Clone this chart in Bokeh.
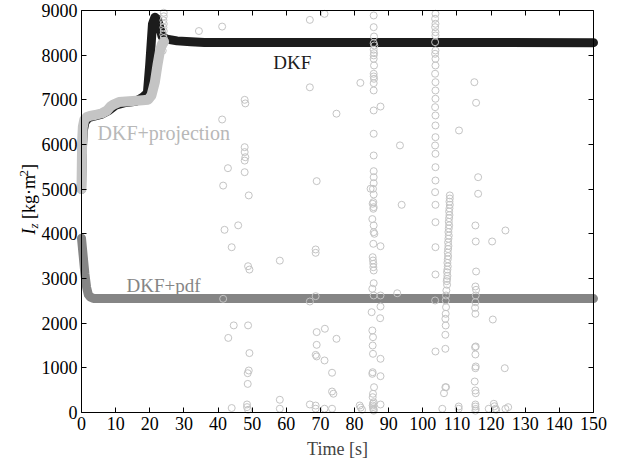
from bokeh.plotting import figure
from bokeh.models import Range1d, LinearAxis, FixedTicker, Label
from bokeh.embed import file_html
from bokeh.resources import INLINE
import math

# ---------------- data ----------------
x_ticks = list(range(0, 151, 10))
y_ticks = list(range(0, 9001, 1000))

# DKF (black)
dkf_t = [0, 0.2, 0.5, 1, 2, 4, 6, 8, 10, 13, 16, 18, 19.3, 20.0, 20.8, 21.5, 22.3, 23.0, 23.6, 25, 28, 32, 36, 150]
dkf_v = [5000, 5800, 6300, 6500, 6600, 6640, 6680, 6760, 6880, 6940, 6970, 7060, 7150, 7800, 8700, 8850, 8800, 8600, 8420, 8360, 8320, 8300, 8285, 8280]

# DKF+pdf (dark gray)
pdf_t = [0, 0.5, 1.0, 1.5, 2.0, 2.5, 3.5, 150]
pdf_v = [3900, 3500, 3100, 2800, 2640, 2590, 2555, 2550]

# DKF+projection, initial converged trajectory (light gray)
proj_curve_t = [0, 0.1, 0.2, 0.4, 0.8, 1.5, 2.5, 4, 6, 7.5, 8.5, 9.5, 11, 14, 17, 19.5, 20.5, 21.5, 22.3, 23, 23.6, 24.2]
proj_curve_v = [5000, 5600, 6100, 6400, 6550, 6610, 6640, 6660, 6700, 6760, 6850, 6900, 6950, 6970, 6985, 7000, 7100, 7400, 7800, 8100, 8250, 8300]

# DKF+projection, scattered estimates (open circles)
proj_pts_t = [
    # around t = 24
    24.1, 24.1, 24.0, 24.1, 24.0, 24.1, 24.0, 24.1, 24.0, 23.9, 23.8,
    # t = 34 .. 49
    34.4, 41.2, 47.8, 48.0, 41.2, 47.8, 47.8, 48.0, 47.8, 47.8, 42.9, 41.5, 49.0,
    41.9, 45.9, 44.0, 48.8, 49.2, 41.5, 44.6, 48.8, 43.0, 49.2, 49.0, 48.7, 48.7,
    44.0, 48.5, 48.5, 48.8,
    # t = 58 .. 94
    66.9, 71.2, 81.7, 66.9, 87.6, 74.7, 93.3, 68.9, 84.7, 58.1, 68.6, 68.6, 68.6,
    66.9, 71.3, 68.9, 74.7, 68.9, 68.6, 68.9, 71.2, 73.4, 73.4, 58.1, 58.1, 66.9,
    68.6, 68.6, 71.2, 73.4, 73.8, 92.5, 93.8, 81.5, 81.8, 82.2,
    # column near t = 85.6
    85.6, 85.6, 85.7, 85.6, 85.8, 85.6, 85.7, 85.6, 85.6, 85.7, 85.6, 85.6, 85.7,
    85.6, 85.6, 85.6, 85.6, 85.6, 85.6, 85.6, 85.6, 85.4, 85.6, 85.5, 85.3, 85.6,
    85.5, 85.2, 85.6, 85.6, 85.8, 85.5, 85.3, 85.4, 85.5, 85.5, 85.6, 85.6, 85.2,
    85.6, 85.0, 85.2, 85.4, 85.3, 85.4, 85.3, 85.2, 85.7, 85.4, 85.3, 85.6, 85.3,
    85.5, 85.4, 85.6, 85.4, 85.6,
    # column near t = 87.6
    87.6, 87.6, 87.6, 87.5, 87.6, 87.6, 87.6,
    # column near t = 103.7
    103.7, 103.6, 103.7, 103.6, 103.7, 103.7, 103.6, 103.7, 103.6, 103.7, 103.7,
    103.6, 103.7, 103.7, 103.7, 103.6, 103.7, 103.7, 103.7, 103.6, 103.7, 103.7,
    103.7, 103.6, 103.7, 103.7, 103.7, 103.7, 103.6, 103.7,
    # streak near t = 107
    107.9, 107.9, 107.8, 107.9, 107.8, 107.7, 107.8, 107.7, 107.6, 107.7, 107.6,
    107.5, 107.6, 107.5, 107.4, 107.5, 107.4, 107.3, 107.4, 107.3, 107.2, 107.3,
    107.2, 107.1, 107.2, 107.1, 107.0, 107.1, 106.9, 106.8, 106.7, 106.8, 106.7,
    106.6, 106.7, 106.6, 106.6, 106.6, 106.8, 106.2, 105.7,
    # column near t = 115.4 and others
    115.1, 115.6, 116.2, 116.2, 115.4, 115.5, 115.6, 115.4, 115.6, 115.5, 115.4,
    115.3, 115.4, 115.5, 115.3, 115.4, 115.5, 115.4, 115.2, 115.4, 115.5, 115.4,
    115.4, 115.5, 115.4,
    110.6, 120.3, 124.2, 120.5, 124.0, 110.5, 110.5, 119.3, 120.8, 121.3, 124.2,
    125.0, 121.0, 121.5,
]
proj_pts_v = [
    8950, 8870, 8780, 8700, 8620, 8540, 8460, 8380, 8300, 8220, 8100,
    8540, 8640, 7000, 6920, 6560, 5940, 5830, 5715, 5640, 5380, 5470, 5080, 4860,
    4090, 4190, 3700, 3275, 3200, 2545, 1950, 1950, 1670, 1330, 940, 880, 640,
    100, 180, 120, 60,
    8790, 8925, 7380, 7280, 6850, 6690, 5980, 5180, 5010, 3400, 3650, 3575, 2605,
    2485, 1875, 1800, 1650, 1515, 1290, 1255, 1165, 890, 470, 285, 85, 180,
    155, 85, 85, 85, 420, 2670, 4650, 157, 110, 60,
    8889, 8627, 8418, 8269, 8217, 8121, 8045, 7994, 7919, 7769, 7583, 7523, 7471,
    7373, 7210, 6762, 6240, 5754, 5403, 5268, 5134, 5008, 4881, 4709, 4673, 4597,
    4561, 4330, 4187, 4037, 4001, 3777, 3477, 3403, 3329, 3253, 3179, 2895, 2770,
    2620, 2246, 1836, 1686, 1500, 1314, 902, 866, 566, 419, 343, 231, 157,
    83, 120, 60, 200, 40,
    3723, 2620, 2373, 2111, 1202, 813, 179,
    8927, 8815, 8703, 8627, 8515, 8441, 8291, 8105, 8031, 7919, 7769,
    7584, 7395, 7209, 7024, 6836, 6650, 6426, 6164, 5978, 5792, 5492,
    5194, 4933, 4650, 4261, 3701, 3090, 2508, 1366,
    4860, 4790, 4720, 4650, 4570, 4500, 4420, 4350, 4270, 4190, 4120,
    4040, 3960, 3890, 3810, 3730, 3660, 3580, 3500, 3430, 3350, 3270,
    3200, 3141, 3060, 2990, 2940, 2860, 2731, 2620, 2508, 2358, 2210,
    2098, 1948, 1740, 1426, 566, 566, 432, 83,
    7395, 6934, 5268, 4897, 4187, 3829, 3157, 2821, 2747, 2620, 2470,
    2344, 2210, 1478, 1462, 1299, 1030, 992, 694, 493, 432, 179,
    134, 80, 40,
    6314, 3829, 4075, 2082, 992, 134, 83, 83, 195, 83, 83,
    119, 140, 60,
]

# ---------------- styling ----------------
FONT = "Liberation Serif"
C_DKF = "#1c1c1c"
C_PDF = "#858585"
C_PROJ = "#c4c4c4"
C_PROJ_TXT = "#b8b8b8"

# The frame covers the whole canvas; the visible plot box (x 0..150, y 0..9000)
# is drawn by four axes pinned with fixed_location, so all texts stay visible.
PX_PER_S = 512 / 150.0
PX_PER_V = 402 / 9000.0
X_START = -81 / PX_PER_S
X_END = 150 + 33 / PX_PER_S
Y_START = -48 / PX_PER_V
Y_END = 9000 + 10 / PX_PER_V

p = figure(width=626, height=460, output_backend="svg", toolbar_location=None,
           x_range=Range1d(X_START, X_END), y_range=Range1d(Y_START, Y_END),
           x_axis_location=None, y_axis_location=None,
           min_border_left=0, min_border_right=0, min_border_top=0, min_border_bottom=0)
p.outline_line_color = None
p.background_fill_color = "white"
p.border_fill_color = "white"
p.grid.grid_line_color = None


def style_axis(ax, ticks, labels):
    ax.ticker = FixedTicker(ticks=ticks)
    ax.axis_line_color = "black"
    ax.axis_line_width = 1
    ax.major_tick_line_color = "black"
    ax.major_tick_in = 5
    ax.major_tick_out = 0
    ax.minor_tick_line_color = None
    if labels:
        ax.major_label_text_font = FONT
        ax.major_label_text_font_size = "18px"
        ax.major_label_text_color = "black"
        ax.major_label_standoff = 4
    else:
        ax.major_label_text_font_size = "1px"
        ax.major_label_text_color = None
        ax.major_label_standoff = 0


xb = LinearAxis(bounds=(0, 150), fixed_location=0)
style_axis(xb, x_ticks, True)
xb.axis_label = "Time [s]"
xb.axis_label_text_font = FONT
xb.axis_label_text_font_size = "18px"
xb.axis_label_text_font_style = "normal"
xb.axis_label_standoff = 6
p.add_layout(xb, "below")

yl = LinearAxis(bounds=(0, 9000), fixed_location=0)
style_axis(yl, y_ticks, True)
p.add_layout(yl, "left")

xt = LinearAxis(bounds=(0, 150), fixed_location=9000)
style_axis(xt, x_ticks, False)
p.add_layout(xt, "above")

yr = LinearAxis(bounds=(0, 9000), fixed_location=150)
style_axis(yr, y_ticks, False)
p.add_layout(yr, "right")

# series
p.line(dkf_t, dkf_v, line_color=C_DKF, line_width=9, line_cap="round", line_join="round")
p.line(pdf_t, pdf_v, line_color=C_PDF, line_width=9, line_cap="round", line_join="round")
p.line(proj_curve_t, proj_curve_v, line_color=C_PROJ, line_width=10, line_cap="round", line_join="round")
p.scatter(proj_pts_t, proj_pts_v, marker="circle", size=7, fill_color=None,
          line_color=C_PROJ, line_width=1)

# in-plot series labels
for txt, tx, ty, col, fs in [("DKF", 56.2, 7836, C_DKF, "19px"),
                             ("DKF+projection", 4.7, 6247, C_PROJ_TXT, "20px"),
                             ("DKF+pdf", 13.2, 2843, C_PDF, "19px")]:
    p.add_layout(Label(x=tx, y=ty, text=txt, text_font=FONT, text_font_size=fs,
                       text_color=col, text_align="left", text_baseline="middle"))

# rotated y-axis label: I_z [kg·m^2]
ylab_parts = [("I", -15.24, 3985, "18px", "italic"),
              ("z", -14.06, 4120, "13px", "italic"),
              ("[kg\u00b7m", -15.24, 4332, "18px", "normal"),
              ("2", -16.70, 5284, "13px", "normal"),
              ("]", -15.24, 5429, "18px", "normal")]
for txt, tx, ty, fs, st in ylab_parts:
    p.add_layout(Label(x=tx, y=ty, text=txt, text_font=FONT, text_font_size=fs,
                       text_font_style=st, text_color="black", angle=math.pi / 2,
                       text_align="left", text_baseline="middle"))

open("out.html", "w").write(file_html(p, INLINE))
